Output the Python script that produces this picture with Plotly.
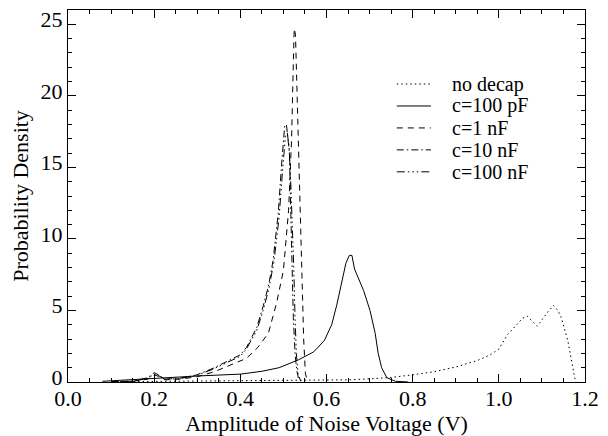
import plotly.graph_objects as go

# ---- data ----
nodecap_x = [0.10, 0.20, 0.30, 0.40, 0.50, 0.60, 0.65, 0.70, 0.75, 0.80, 0.85, 0.90, 0.95, 0.98,
             1.00, 1.02, 1.04, 1.055, 1.066, 1.078, 1.089, 1.104, 1.115, 1.127, 1.137, 1.145,
             1.152, 1.160, 1.170, 1.176, 1.180]
nodecap_y = [0.02, 0.05, 0.06, 0.08, 0.10, 0.12, 0.15, 0.22, 0.32, 0.50, 0.72, 1.05, 1.50, 1.90,
             2.30, 3.30, 4.00, 4.45, 4.60, 4.20, 3.90, 4.50, 4.95, 5.35, 5.00, 4.50,
             3.80, 2.90, 1.30, 0.30, 0.00]

c100p_x = [0.08, 0.15, 0.20, 0.26, 0.30, 0.35, 0.40, 0.45, 0.49, 0.535, 0.57, 0.595, 0.612, 0.624,
           0.635, 0.645, 0.653, 0.659, 0.665, 0.676, 0.686, 0.701, 0.713, 0.720, 0.728, 0.740,
           0.760, 0.790]
c100p_y = [0.05, 0.15, 0.25, 0.35, 0.42, 0.48, 0.55, 0.75, 1.00, 1.55, 2.10, 2.90, 4.00, 5.40,
           6.90, 8.30, 8.85, 8.85, 7.90, 7.10, 6.40, 5.00, 3.40, 2.00, 1.00, 0.30,
           0.05, 0.00]

c1n_x = [0.10, 0.15, 0.185, 0.20, 0.21, 0.225, 0.26, 0.30, 0.34, 0.376, 0.414, 0.44, 0.465, 0.484,
         0.500, 0.512, 0.519, 0.522, 0.525, 0.528, 0.532, 0.536, 0.540, 0.543, 0.547, 0.551, 0.556]
c1n_y = [0.02, 0.05, 0.20, 0.50, 0.40, 0.15, 0.20, 0.37, 0.72, 1.19, 1.65, 2.40, 3.40, 5.50,
         7.80, 12.0, 17.0, 21.0, 24.7, 24.3, 20.0, 15.0, 10.0, 7.0, 3.0, 0.6, 0.0]

c10n_x = [0.10, 0.15, 0.185, 0.20, 0.21, 0.225, 0.259, 0.298, 0.337, 0.376, 0.40, 0.414, 0.438,
          0.453, 0.466, 0.476, 0.488, 0.496, 0.503, 0.507, 0.511, 0.514, 0.517, 0.520, 0.523,
          0.527, 0.531, 0.536]
c10n_y = [0.02, 0.05, 0.30, 0.65, 0.50, 0.20, 0.26, 0.49, 0.96, 1.54, 1.90, 2.40, 3.80,
          5.30, 6.80, 8.50, 11.8, 15.3, 17.9, 18.0, 17.0, 16.0, 12.0, 8.0, 4.5,
          2.0, 0.8, 0.1]

c100n_x = [0.10, 0.15, 0.185, 0.20, 0.21, 0.225, 0.259, 0.298, 0.337, 0.376, 0.40, 0.414, 0.438,
           0.453, 0.466, 0.478, 0.490, 0.498, 0.505, 0.509, 0.513, 0.517, 0.521, 0.524, 0.527,
           0.530, 0.534, 0.540]
c100n_y = [0.02, 0.05, 0.25, 0.55, 0.45, 0.20, 0.24, 0.45, 0.90, 1.45, 1.80, 2.30, 3.60,
           5.00, 6.50, 8.40, 11.5, 14.8, 17.3, 17.4, 16.5, 14.0, 11.0, 8.0, 4.5,
           2.0, 0.6, 0.05]

series_names = ["no decap", "c=100 pF", "c=1 nF", "c=10 nF", "c=100 nF"]
x_tickvals = [0.0, 0.2, 0.4, 0.6, 0.8, 1.0, 1.2]
y_tickvals = [0, 5, 10, 15, 20, 25]

FONT = "Liberation Serif"
FS = 22

dashes = ["1.5px,3px", "solid", "6px,5px", "7px,3px,1.5px,3px",
          "8px,3px,1.5px,3px,1.5px,3px,1.5px,3px"]
series = [(nodecap_x, nodecap_y), (c100p_x, c100p_y), (c1n_x, c1n_y),
          (c10n_x, c10n_y), (c100n_x, c100n_y)]

fig = go.Figure()
for (xs, ys), name, dash in zip(series, series_names, dashes):
    fig.add_trace(go.Scatter(x=xs, y=ys, mode="lines", name=name, showlegend=False,
                             line=dict(color="black", width=1, dash=dash)))

# legend drawn as paper-positioned samples + labels
leg_x0, leg_x1, leg_tx = 0.636, 0.702, 0.739
leg_y0, leg_dy = 0.801, 0.059
for i, (name, dash) in enumerate(zip(series_names, dashes)):
    yy = leg_y0 - i * leg_dy
    fig.add_shape(type="line", xref="paper", yref="paper", x0=leg_x0, x1=leg_x1, y0=yy, y1=yy,
                  line=dict(color="black", width=1, dash=dash))
    fig.add_annotation(xref="paper", yref="paper", x=leg_tx, y=yy, text=name, showarrow=False,
                       xanchor="left", yanchor="middle",
                       font=dict(family=FONT, size=20, color="black"))

axis_common = dict(
    showline=True, linecolor="black", linewidth=1, mirror="ticks",
    ticks="inside", ticklen=8, tickcolor="black", tickwidth=1,
    showgrid=False, zeroline=False, automargin=False, ticklabeloverflow="allow",
    tickfont=dict(family=FONT, size=FS, color="black"),
)

fig.update_xaxes(
    range=[0, 1.2], tickvals=x_tickvals, tickformat=".1f",
    ticklabelstandoff=-3,
    minor=dict(dtick=0.05, ticklen=4, ticks="inside", tickcolor="black", showgrid=False),
    title=dict(text="Amplitude of Noise Voltage (V)", font=dict(family=FONT, size=FS, color="black"),
               standoff=5),
    **axis_common,
)
fig.update_yaxes(
    range=[0, 26], tickvals=y_tickvals,
    minor=dict(dtick=1, ticklen=4, ticks="inside", tickcolor="black", showgrid=False),
    ticklabelshift=-5,
    title=dict(text="Probability Density", font=dict(family=FONT, size=FS, color="black"),
               standoff=6),
    **axis_common,
)

# the page body has an 8px default margin, so the figure is offset by 8px
fig.update_layout(
    width=600, height=428,
    margin=dict(l=60, r=23, t=2, b=54),
    paper_bgcolor="white", plot_bgcolor="white",
    showlegend=False,
    font=dict(family=FONT, color="black"),
)

fig.write_html("out.html")
